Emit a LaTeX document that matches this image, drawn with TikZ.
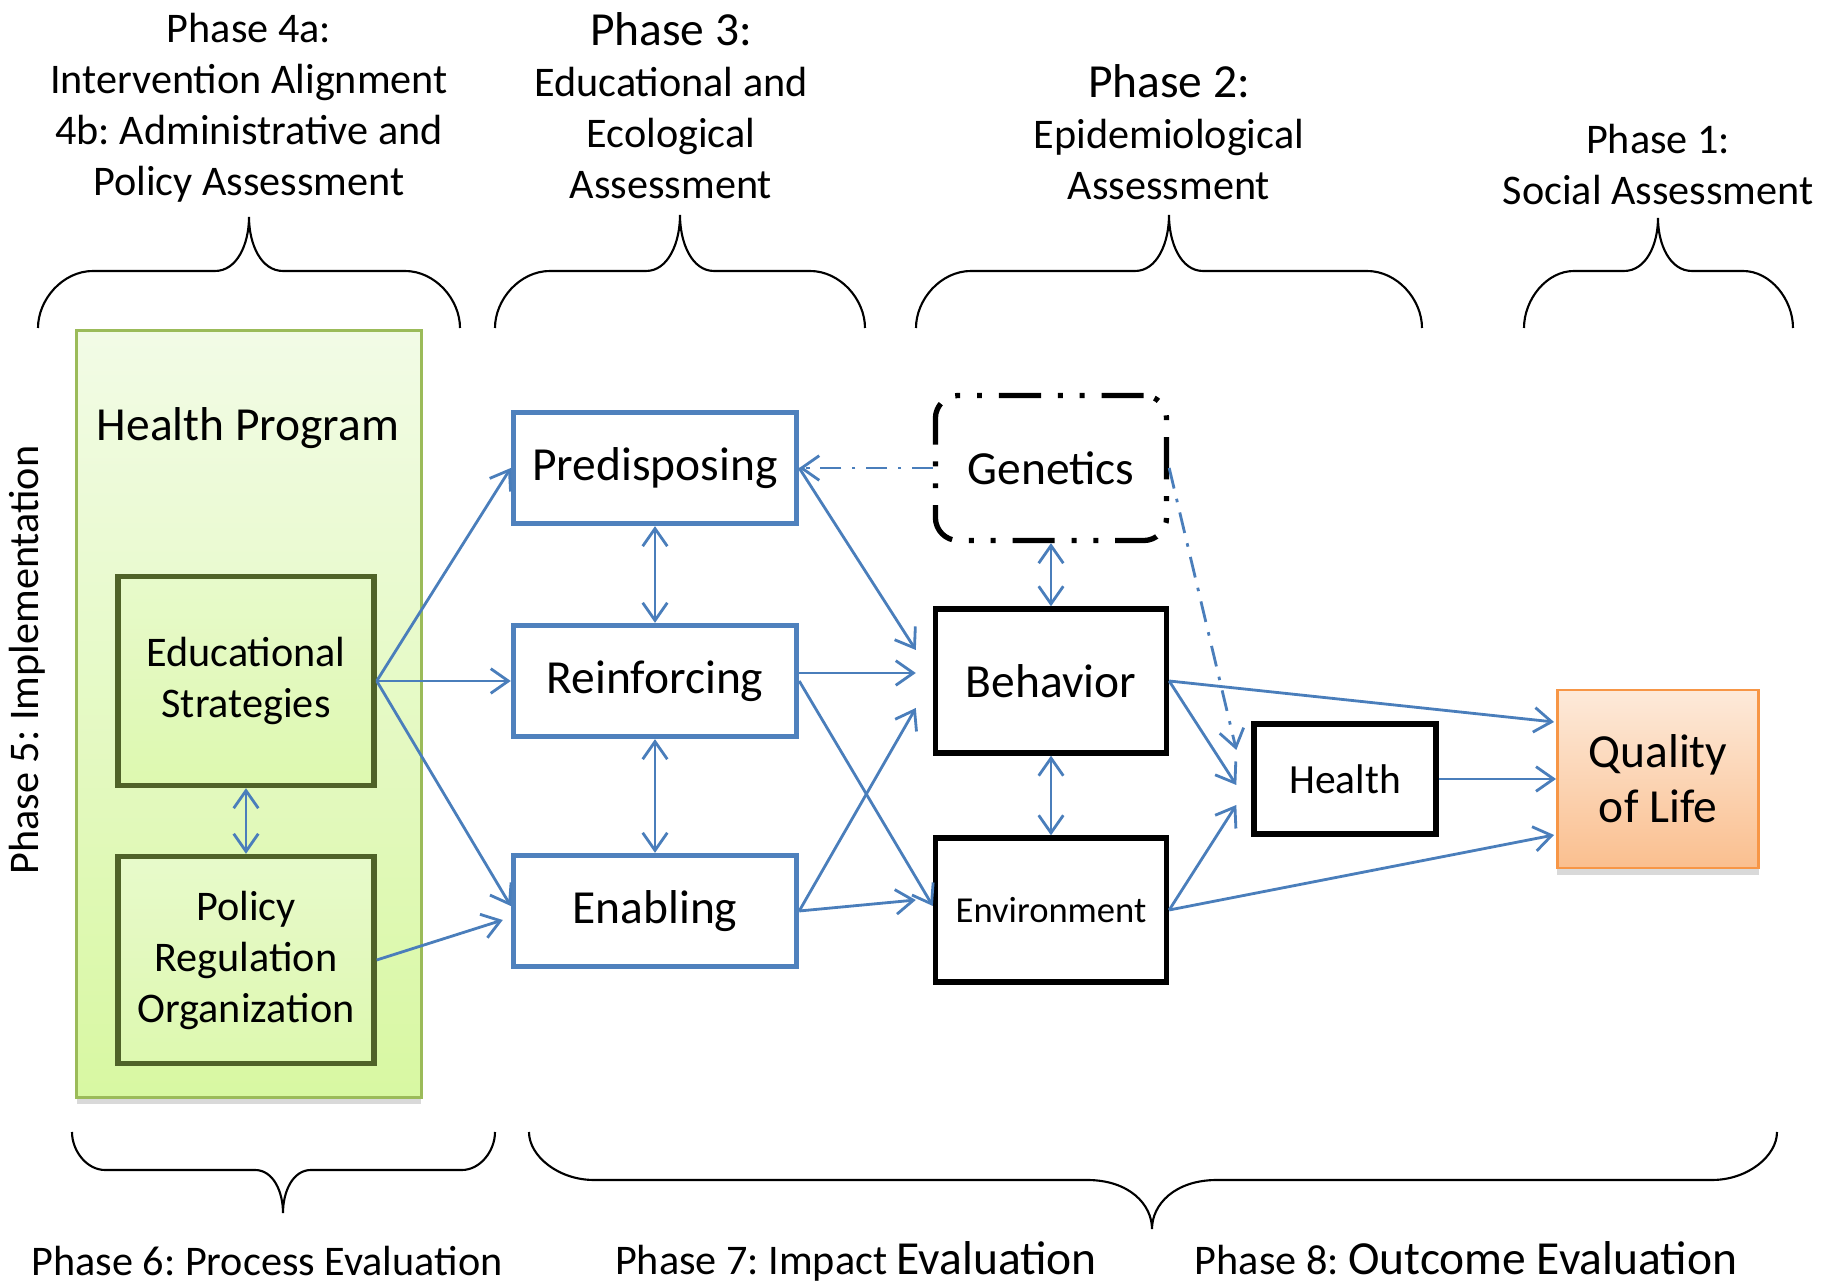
\documentclass[tikz,border=0pt]{standalone}
\usepackage{fontspec}
\setmainfont{Carlito}
\frenchspacing
\usetikzlibrary{arrows.meta,shadows}
\definecolor{linkblue}{HTML}{4A7EBB}
\definecolor{boxblue}{HTML}{4F81BD}
\definecolor{olivedark}{HTML}{4F6228}
\definecolor{olivelight}{HTML}{9BBB59}
\definecolor{greentop}{HTML}{F2FBE6}
\definecolor{greenbottom}{HTML}{D8F8A2}
\definecolor{peachtop}{HTML}{FDEADA}
\definecolor{peachbottom}{HTML}{FABF8F}
\definecolor{peachline}{HTML}{F79646}

\begin{document}
\begin{tikzpicture}[x=0.01cm, y=-0.01cm, >={Straight Barb[length=5pt,width=7pt]},
  link/.style={draw=linkblue, line width=0.8pt, ->},
  dashlink/.style={link, dash pattern=on 6pt off 3pt on 1pt off 3pt},
  bluebox/.style={draw=boxblue, line width=1.5pt, minimum width=2.83cm, minimum height=1.11cm, font=\fontsize{13.5}{16}\selectfont},
  blackbox/.style={draw, line width=1.5pt, minimum width=2.31cm, minimum height=1.44cm, font=\fontsize{13.5}{16}\selectfont},
  greenbox/.style={draw=olivedark, line width=1.5pt, minimum width=2.56cm, align=center, top color=greentop!60!greenbottom, bottom color=greenbottom!80!greentop, font=\fontsize{12}{14.5}\selectfont},
  phase/.style={align=center, font=\fontsize{12}{14.5}\selectfont}]
\useasboundingbox (0,0) rectangle (1826,1283);

% braces
\foreach \xa/\xt/\xb/\yb/\ym/\yt/\r/\q in {38/249/460/328/271/217/55/34, 495/680/865/328/271/215/55/34,
  916/1169/1422/328/271/215/55/34, 1524/1658/1793/328/271/218/50/34,
  72/283/495/1132/1170/1213/33/28, 529/1152/1777/1132/1180/1229/65/65}
  \draw[line width=0.6pt] (\xa,\yb) .. controls (\xa,{(\yb+\ym)/2}) and ({\xa+0.45*\r},\ym) .. ({\xa+\r},\ym)
    -- ({\xt-\q},\ym) .. controls ({\xt-0.35*\q},\ym) and (\xt,{(\ym+\yt)/2}) .. (\xt,\yt)
    .. controls (\xt,{(\ym+\yt)/2}) and ({\xt+0.35*\q},\ym) .. ({\xt+\q},\ym)
    -- ({\xb-\r},\ym) .. controls ({\xb-0.45*\r},\ym) and (\xb,{(\yb+\ym)/2}) .. (\xb,\yb);

% phase labels
\node[phase] (p4) at (249,108) {Phase 4a:\\Intervention Alignment\\4b: Administrative and\\Policy Assessment};
\node[phase] (p3) at (671,106) {{\fontsize{13.5}{16}\selectfont Phase 3:}\\Educational and\\Ecological\\Assessment};
\node[phase] (p2) at (1169,132) {{\fontsize{13.5}{16}\selectfont Phase 2:}\\Epidemiological\\Assessment};
\node[phase] (p1) at (1658,165) {Phase 1:\\Social Assessment};
\node[phase, rotate=90] (p5) at (27,660) {Phase 5: Implementation};
\node[phase] (p6) at (267,1261) {Phase 6: Process Evaluation};
\node[phase] (p7) at (856,1261) {Phase 7: Impact {\fontsize{13.5}{16}\selectfont Evaluation}};
\node[phase] (p8) at (1466,1258) {Phase 8: {\fontsize{13.5}{16}\selectfont Outcome Evaluation}};

% health program
\node[draw=olivelight, line width=0.8pt, top color=greentop, bottom color=greenbottom,
  drop shadow={shadow xshift=0pt, shadow yshift=-2pt, opacity=0.3},
  minimum width=3.44cm, minimum height=7.66cm] (hp) at (249,714) {};
\node[font=\fontsize{13.5}{16}\selectfont] (hptext) at (248,428) {Health Program};
\node[greenbox, minimum height=2.09cm] (edu) at (246,681) {Educational\\Strategies};
\node[greenbox, minimum height=2.07cm] (pol) at (246,960) {Policy\\Regulation\\Organization};

% factors
\node[bluebox] (pre) at (655,468) {Predisposing};
\node[bluebox] (rei) at (655,681) {Reinforcing};
\node[bluebox] (ena) at (655,911) {Enabling};
\node[draw, line width=1.5pt, rounded corners=6.5pt, dash pattern=on 12pt off 4.8pt on 1.4pt off 4.8pt on 1.4pt off 4.8pt,
  minimum width=2.31cm, minimum height=1.45cm, font=\fontsize{13.5}{16}\selectfont] (gen) at (1051,468) {Genetics};
\node[blackbox] (beh) at (1051,681) {Behavior};
\node[blackbox, font=\fontsize{10.4}{12}\selectfont] (env) at (1051,910) {Environment};
\node[draw, line width=1.5pt, minimum width=1.82cm, minimum height=1.10cm, font=\fontsize{11.8}{14}\selectfont] (hea) at (1345,779) {Health};
\node[draw=peachline, line width=0.8pt, top color=peachtop, bottom color=peachbottom,
  drop shadow={shadow xshift=0pt, shadow yshift=-2pt, opacity=0.3},
  minimum width=2.01cm, minimum height=1.78cm, align=center, font=\fontsize{13.5}{15.6}\selectfont] (qol) at (1658,779) {Quality\\of Life};

% connectors
\draw[link] (edu.east) -- (pre.west);
\draw[link] (edu.east) -- (rei.west);
\draw[link] (edu.east) -- ([shift={(0,-5)}]ena.west);
\draw[link] (pol.east) -- ([shift={(-8,9)}]ena.west);
\draw[link, <->] (edu.south) -- (pol.north);
\draw[link, <->] (pre.south) -- (rei.north);
\draw[link, <->] (rei.south) -- (ena.north);
\draw[link] (pre.east) -- ([shift={(-17,-31)}]beh.west);
\draw[link] ([shift={(0,-8)}]rei.east) -- ([shift={(-17,-8)}]beh.west);
\draw[link] (ena.east) -- ([shift={(-17,27)}]beh.west);
\draw[link] (rei.east) -- ([shift={(0,-4)}]env.west);
\draw[link] (ena.east) -- ([shift={(-17,-10)}]env.west);
\draw[dashlink] (gen.west) -- (pre.east);
\draw[link, <->] (gen.south) -- (beh.north);
\draw[link, <->] (beh.south) -- (env.north);
\draw[link] (beh.east) -- ([shift={(-15,6)}]hea.west);
\draw[link] (env.east) -- ([shift={(-15,26)}]hea.west);
\draw[dashlink] (gen.east) -- ([shift={(-15,-29)}]hea.west);
\draw[link] (beh.east) -- ([shift={(-2,-57)}]qol.west);
\draw[link] (hea.east) -- (qol.west);
\draw[link] (env.east) -- ([shift={(-2,56)}]qol.west);
\end{tikzpicture}
\end{document}
